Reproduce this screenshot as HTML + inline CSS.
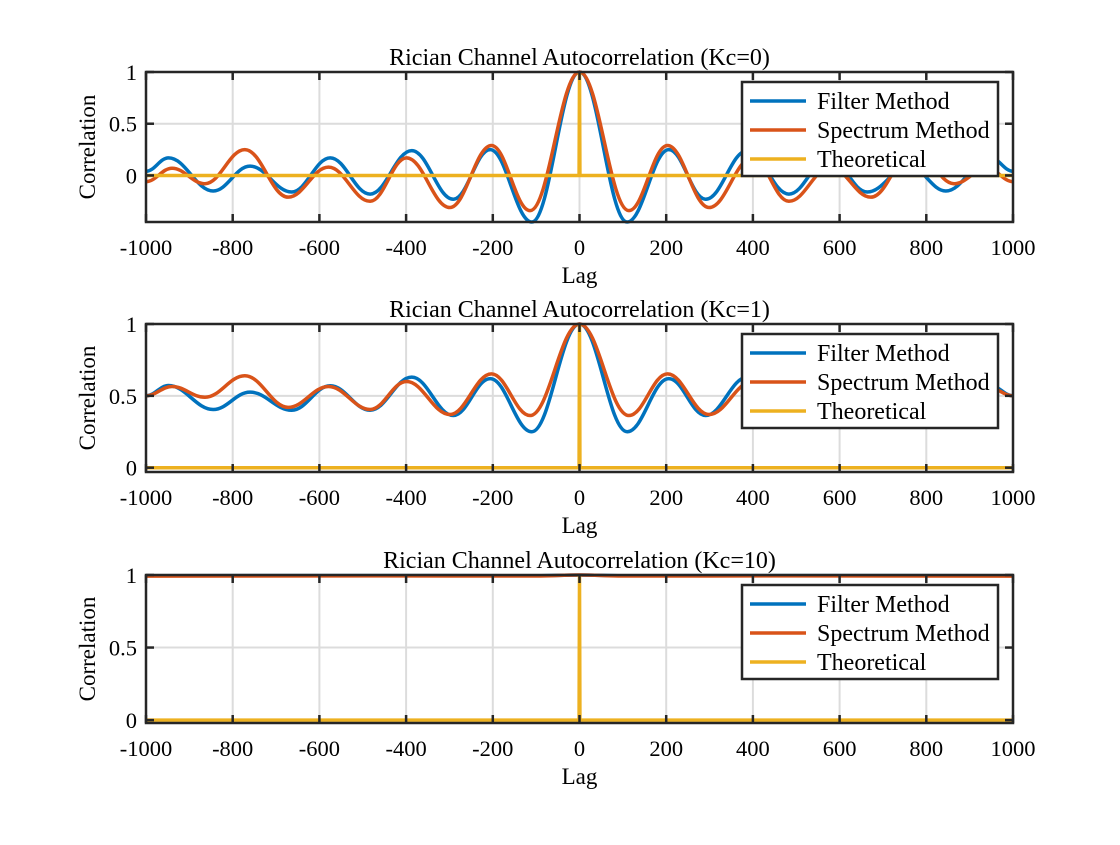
<!DOCTYPE html>
<html><head><meta charset="utf-8"><style>
body{margin:0;background:#fff}
svg text{font-family:"Liberation Serif",serif;fill:#000}
</style></head><body>
<svg id="fig" width="1120" height="840" xmlns="http://www.w3.org/2000/svg"></svg>
<script>
// Kc=0 extrema (lag, value)
const lagsF0=[-1000,-948,-845,-760,-664,-575,-483,-387,-291,-206,-110,0,110,206,291,387,483,575,664,760,845,948,1000];
const valsF0=[0.04,0.17,-0.15,0.09,-0.16,0.17,-0.18,0.24,-0.23,0.25,-0.45,1,-0.45,0.25,-0.23,0.24,-0.18,0.17,-0.16,0.09,-0.15,0.17,0.04];
const lagsS0=[-1000,-940,-864,-772,-672,-579,-483,-399,-299,-203,-114,0,114,203,299,399,483,579,672,772,864,940,1000];
const valsS0=[-0.06,0.07,-0.08,0.25,-0.21,0.08,-0.25,0.17,-0.31,0.29,-0.34,1,-0.34,0.29,-0.31,0.17,-0.25,0.08,-0.21,0.25,-0.08,0.07,-0.06];
// Kc=1
const lagsF1=lagsF0;
const valsF1=[0.5,0.572,0.405,0.526,0.40,0.57,0.40,0.63,0.363,0.62,0.25,1,0.25,0.62,0.363,0.63,0.40,0.57,0.40,0.526,0.405,0.572,0.5];
const lagsS1=lagsS0;
const valsS1=[0.5,0.565,0.49,0.64,0.42,0.565,0.405,0.60,0.37,0.653,0.363,1,0.363,0.653,0.37,0.60,0.405,0.565,0.42,0.64,0.49,0.565,0.5];
// Kc=10
const lagsF2=[-1000,-500,-100,0,100,500,1000];
const valsF2=[0.995,0.996,0.995,1,0.995,0.996,0.995];
const lagsS2=[-1000,-500,-100,0,100,500,1000];
const valsS2=[0.992,0.994,0.993,1,0.993,0.994,0.992];
// Theoretical
const lagsT=[-1000,-1,0,1,1000];
const valsT=[0,0,1,0,0];
const xTicks=[-1000,-800,-600,-400,-200,0,200,400,600,800,1000];
const kcLabels=["0","1","10"];
const legendLabels=["Filter Method","Spectrum Method","Theoretical"];

const NS="http://www.w3.org/2000/svg";
const svg=document.getElementById('fig');
function mk(t,a,p){const e=document.createElementNS(NS,t);for(const k in a)e.setAttribute(k,a[k]);(p||svg).appendChild(e);return e;}
const X0=146,X1=1013;
const panels=[
 {top:72,bot:222,ymin:-0.45,ymax:1,yt:[0,0.5,1],yl:["0","0.5","1"],F:[lagsF0,valsF0],S:[lagsS0,valsS0]},
 {top:324,bot:472,ymin:-0.03,ymax:1,yt:[0,0.5,1],yl:["0","0.5","1"],F:[lagsF1,valsF1],S:[lagsS1,valsS1]},
 {top:575,bot:723,ymin:-0.02,ymax:1,yt:[0,0.5,1],yl:["0","0.5","1"],F:[lagsF2,valsF2],S:[lagsS2,valsS2]}
];
const colors=["#0072BD","#D95319","#EDB120"];
panels.forEach((p,i)=>{
 const g=mk('g',{});
 
 
 const xs=v=>X0+(v+1000)/2000*(X1-X0);
 const ys=v=>p.bot-(v-p.ymin)/(p.ymax-p.ymin)*(p.bot-p.top);
 const clipId='c'+i;
 const cp=mk('clipPath',{id:clipId},g);mk('rect',{x:X0,y:p.top-2,width:X1-X0,height:p.bot-p.top+4},cp);
 xTicks.forEach(t=>{const l=mk('line',{x1:xs(t),x2:xs(t),y1:p.top,y2:p.bot,stroke:'#dcdcdc','stroke-width':2},g);});
 p.yt.forEach(t=>{const l=mk('line',{x1:X0,x2:X1,y1:ys(t),y2:ys(t),stroke:'#dcdcdc','stroke-width':2},g);});
 function smooth(L,V){let d='M'+xs(L[0])+','+ys(V[0]);for(let k=1;k<L.length;k++){const xa=xs(L[k-1]),xb=xs(L[k]),ya=ys(V[k-1]),yb=ys(V[k]);const dx=(xb-xa)/2.6;d+=' C'+(xa+dx)+','+ya+' '+(xb-dx)+','+yb+' '+xb+','+yb;}return d;}
 function poly(L,V){return 'M'+L.map((l,k)=>xs(l)+','+ys(V[k])).join(' L');}
 const cg=mk('g',{'clip-path':'url(#'+clipId+')'},g);
 const pf=mk('path',{d:smooth(p.F[0],p.F[1]),fill:'none',stroke:colors[0],'stroke-width':3.5},cg);
 
 const ps=mk('path',{d:smooth(p.S[0],p.S[1]),fill:'none',stroke:colors[1],'stroke-width':3.5},cg);
 
 const pt=mk('path',{d:poly(lagsT,valsT),fill:'none',stroke:colors[2],'stroke-width':3.5},cg);
 
 const bx=mk('rect',{x:X0,y:p.top,width:X1-X0,height:p.bot-p.top,fill:'none',stroke:'#262626','stroke-width':2.5},g);
 
 xTicks.forEach(t=>{
  mk('line',{x1:xs(t),x2:xs(t),y1:p.bot,y2:p.bot-8,stroke:'#262626','stroke-width':2.5},g);
  mk('line',{x1:xs(t),x2:xs(t),y1:p.top,y2:p.top+8,stroke:'#262626','stroke-width':2.5},g);
  const tx=mk('text',{x:xs(t),y:p.bot+33,'text-anchor':'middle','font-size':22.5},g);tx.textContent=t;
  
 });
 p.yt.forEach((t,k)=>{
  mk('line',{x1:X0,x2:X0+8,y1:ys(t),y2:ys(t),stroke:'#262626','stroke-width':2.5},g);
  mk('line',{x1:X1,x2:X1-8,y1:ys(t),y2:ys(t),stroke:'#262626','stroke-width':2.5},g);
  const tx=mk('text',{x:X0-9,y:ys(t)+8,'text-anchor':'end','font-size':22.5},g);tx.textContent=p.yl[k];
  
 });
 const ti=mk('text',{x:(X0+X1)/2,y:p.top-7,'text-anchor':'middle','font-size':24},g);ti.textContent='Rician Channel Autocorrelation (Kc='+kcLabels[i]+')';
 
 const xl=mk('text',{x:(X0+X1)/2,y:p.bot+61,'text-anchor':'middle','font-size':23},g);xl.textContent='Lag';
 
 const yc=(p.top+p.bot)/2;
 const yl=mk('text',{x:95,y:yc,'text-anchor':'middle','font-size':23,transform:'rotate(-90 95 '+yc+')'},g);yl.textContent='Correlation';
 
 const lg=mk('g',{},g);
 const ly=p.top+10;
 mk('rect',{x:742,y:ly,width:256,height:94,fill:'#fff',stroke:'#262626','stroke-width':2.5},lg);
 legendLabels.forEach((lab,k)=>{
  const e=mk('g',{},lg);
  const yy=ly+19+k*29;
  mk('line',{x1:750,x2:806,y1:yy,y2:yy,stroke:colors[k],'stroke-width':3.5},e);
  const t=mk('text',{x:817,y:yy+8,'font-size':24},e);t.textContent=lab;
 });
});
</script>
</body></html>
